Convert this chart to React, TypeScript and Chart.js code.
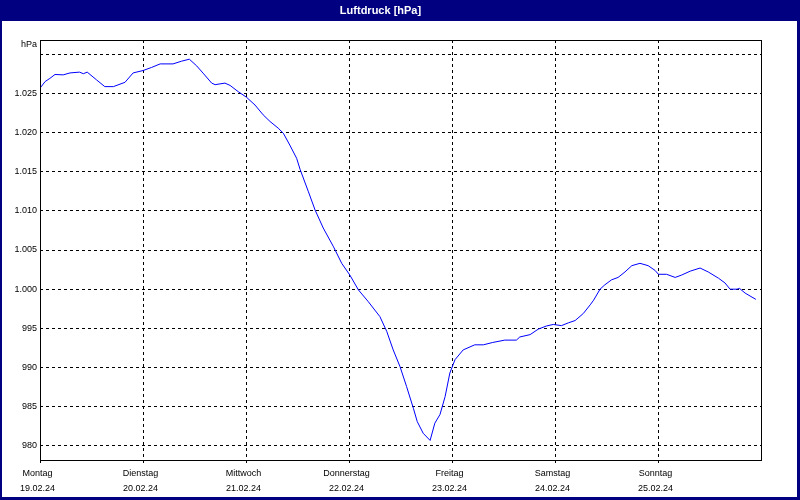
import React, { useEffect, useRef } from "react";
import { Chart, registerables } from "chart.js";

Chart.register(...registerables);

const TITLE = "Luftdruck [hPa]";
const UNIT = "hPa";
const dayNames = ["Montag", "Dienstag", "Mittwoch", "Donnerstag", "Freitag", "Samstag", "Sonntag"];
const dayDates = ["19.02.24", "20.02.24", "21.02.24", "22.02.24", "23.02.24", "24.02.24", "25.02.24"];
const xTickHours = [0, 24, 48, 72, 96, 120, 144];
const yTickValues = [980, 985, 990, 995, 1000, 1005, 1010, 1015, 1020, 1025, 1030];

// hours since Monday 19.02.24 00:00
const hours = [
  0, 1.2, 2.3, 3.5, 5.4, 7, 9.2, 10.1, 11, 13.2, 15.1, 17.1, 19.8, 21.7, 24, 26, 28, 31, 33, 34.8,
  36.5, 38, 40, 40.8, 43.1, 44.3, 46.2, 48.1, 50.1, 52, 53.6, 55.5, 56.7, 58.2, 59.8, 60.6, 62.5,
  64.1, 66, 68.4, 70.3, 72.2, 74.2, 76.5, 79.2, 80.8, 82.3, 83.9, 85.4, 87, 87.9, 89.3, 90.9, 92,
  93.2, 94.4, 95.5, 96.7, 98.6, 101.3, 103.3, 105.5, 108.3, 111, 111.8, 114.2, 116.1, 118, 119.6,
  121.5, 123.1, 124.7, 126.6, 128.2, 129, 130.5, 131.6, 133.2, 134.7, 136.3, 137.9, 139.8, 141.7,
  143.3, 144.1, 146, 148, 149.5, 151.5, 153.8, 155.7, 158.1, 159.6, 160.8, 162.4, 163, 164.3, 166.8,
];
const pressure = [
  1025.65, 1026.5, 1026.9, 1027.4, 1027.35, 1027.6, 1027.7, 1027.5, 1027.7, 1026.7, 1025.85, 1025.85,
  1026.4, 1027.6, 1027.9, 1028.3, 1028.75, 1028.75, 1029.1, 1029.35, 1028.5, 1027.57, 1026.3, 1026.1,
  1026.3, 1026.0, 1025.2, 1024.5, 1023.5, 1022.25, 1021.4, 1020.55, 1019.9, 1018.4, 1016.7, 1015.3,
  1012.5, 1010.1, 1007.8, 1005.4, 1003.3, 1001.8, 999.9, 998.4, 996.5, 994.6, 992.25, 990.1, 987.6,
  984.8, 983.1, 981.6, 980.7, 982.9, 984.0, 986.3, 989.3, 991.0, 992.25, 992.9, 992.9, 993.2, 993.5,
  993.5, 993.9, 994.2, 994.9, 995.3, 995.5, 995.35, 995.7, 996.0, 996.9, 998.0, 998.6, 1000.0,
  1000.55, 1001.2, 1001.5, 1002.2, 1003.0, 1003.3, 1003.0, 1002.4, 1001.9, 1001.9, 1001.5, 1001.8,
  1002.3, 1002.7, 1002.2, 1001.4, 1000.8, 1000.0, 1000.0, 1000.1, 999.5, 998.7,
];

const NAVY = "#000080";
const FONT = "'Liberation Sans', Arial, sans-serif";

const framePlugin = {
  id: "frame",
  beforeDraw(chart: any) {
    const { ctx, width, height } = chart;
    ctx.save();
    ctx.fillStyle = "#ffffff";
    ctx.fillRect(0, 0, width, height);
    ctx.fillStyle = NAVY;
    ctx.fillRect(0, 0, width, 21);
    ctx.fillRect(0, 0, 2, height);
    ctx.fillRect(width - 3, 0, 3, height);
    ctx.fillRect(0, height - 3, width, 3);
    ctx.restore();
  },
  afterDraw(chart: any) {
    const { ctx, chartArea } = chart;
    ctx.save();
    ctx.strokeStyle = "#000000";
    ctx.lineWidth = 1;
    ctx.setLineDash([]);
    const l = Math.round(chartArea.left) + 0.5;
    const t = Math.round(chartArea.top) + 0.5;
    const r = Math.round(chartArea.right) + 0.5;
    const b = Math.round(chartArea.bottom) + 0.5;
    ctx.strokeRect(l, t, r - l, b - t);
    ctx.fillStyle = "#000000";
    ctx.font = `9px ${FONT}`;
    ctx.textAlign = "right";
    ctx.textBaseline = "middle";
    ctx.fillText(UNIT, chartArea.left - 3, chartArea.top + 5);
    ctx.restore();
  },
};

export default function App() {
  const ref = useRef<HTMLCanvasElement | null>(null);
  useEffect(() => {
    document.body.style.margin = "0";
    if (!ref.current) return;
    const points = hours.map((h, i) => ({ x: h, y: pressure[i] }));
    const chart = new Chart(ref.current, {
      type: "line",
      data: {
        datasets: [
          {
            data: points,
            borderColor: "#0000ff",
            borderWidth: 1,
            pointRadius: 0,
            tension: 0,
            fill: false,
          },
        ],
      },
      options: {
        animation: false,
        responsive: false,
        devicePixelRatio: 1,
        layout: { padding: { left: 0, right: 39, top: 0, bottom: 0 } },
        plugins: {
          legend: { display: false },
          tooltip: { enabled: false },
          title: {
            display: true,
            text: TITLE,
            color: "#ffffff",
            font: { family: FONT, size: 11, weight: "bold", lineHeight: 1.2 },
            padding: { top: 4, bottom: 22.8 },
          },
        },
        scales: {
          x: {
            type: "linear",
            min: 0,
            max: 168,
            afterBuildTicks: (scale: any) => {
              scale.ticks = xTickHours.map((v) => ({ value: v }));
            },
            afterFit: (scale: any) => {
              scale.height = 40;
            },
            grid: {
              color: "#000000",
              lineWidth: 1,
              drawTicks: true,
              tickLength: 3,
              tickColor: "#000000",
              tickBorderDash: [3, 3],
            },
            border: { display: false, dash: [3, 3] },
            ticks: {
              color: "#000000",
              padding: 2.6,
              labelOffset: -2.5,
              maxRotation: 0,
              autoSkip: false,
              font: { family: FONT, size: 9, lineHeight: 1.71 },
              callback: (value: any) => {
                const i = xTickHours.indexOf(Number(value));
                return i >= 0 ? [dayNames[i], dayDates[i]] : "";
              },
            },
          },
          y: {
            type: "linear",
            min: 978.2,
            max: 1031.8,
            afterBuildTicks: (scale: any) => {
              scale.ticks = yTickValues.map((v) => ({ value: v }));
            },
            afterFit: (scale: any) => {
              scale.width = 40;
            },
            grid: {
              color: "#000000",
              lineWidth: 1,
              drawTicks: false,
            },
            border: { display: false, dash: [3, 3] },
            ticks: {
              color: "#000000",
              padding: 3,
              autoSkip: false,
              font: { family: FONT, size: 9 },
              callback: (value: any) => {
                const v = Number(value);
                if (v === 1030) return "";
                return v >= 1000 ? (v / 1000).toFixed(3) : String(v);
              },
            },
          },
        },
      },
      plugins: [framePlugin],
    });
    return () => chart.destroy();
  }, []);
  return (
    <div style={{ width: 800, height: 500 }}>
      <canvas ref={ref} width={800} height={500} style={{ display: "block" }} />
    </div>
  );
}
